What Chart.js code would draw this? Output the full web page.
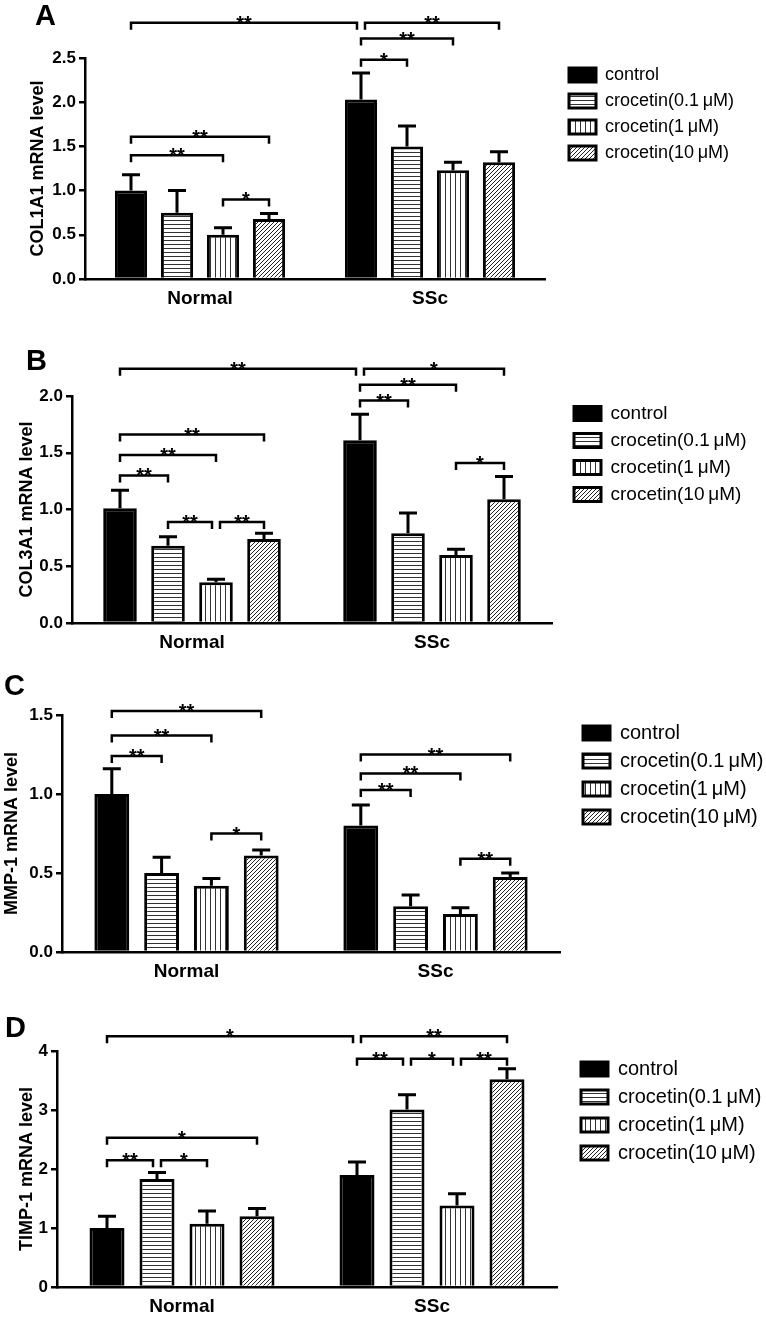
<!DOCTYPE html>
<html>
<head>
<meta charset="utf-8">
<script src="https://cdn.jsdelivr.net/npm/chart.js@4.4.1/dist/chart.umd.min.js"></script>
<style>
  html, body { margin: 0; padding: 0; background: #fff; }
  #wrap { position: relative; width: 766px; height: 1317px; overflow: hidden; }
  canvas { position: absolute; left: 0; }
</style>
</head>
<body>
<div id="wrap">
  <canvas id="chartA" width="766" height="325" style="top:0px"></canvas>
  <canvas id="chartB" width="766" height="330" style="top:325px"></canvas>
  <canvas id="chartC" width="766" height="330" style="top:655px"></canvas>
  <canvas id="chartD" width="766" height="332" style="top:985px"></canvas>
</div>
<script>
const groups = ['Normal', 'SSc'];
const seriesNames = ['control', 'crocetin(0.1\u2009\u03BCM)', 'crocetin(1\u2009\u03BCM)', 'crocetin(10\u2009\u03BCM)'];

// one row per treatment: [Normal, SSc]
const col1a1Mean = [[1.00, 2.03], [0.75, 1.50], [0.50, 1.23], [0.68, 1.32]];
const col1a1Sem  = [[0.18, 0.30], [0.25, 0.23], [0.08, 0.09], [0.06, 0.12]];
// significance: [bar a, bar b, bracket height, label]; bars 0-3 Normal, 4-7 SSc
const col1a1Sig = [[0, 4, 2.90, '**'], [4, 7, 2.90, '**'], [4, 6, 2.72, '**'], [4, 5, 2.48, '*'],
                   [0, 3, 1.61, '**'], [0, 2, 1.40, '**'], [2, 3, 0.90, '*']];

const col3a1Mean = [[1.01, 1.61], [0.68, 0.79], [0.36, 0.60], [0.74, 1.09]];
const col3a1Sem  = [[0.16, 0.23], [0.08, 0.18], [0.025, 0.05], [0.05, 0.20]];
const col3a1Sig = [[0, 4, 2.24, '**'], [4, 7, 2.24, '*'], [4, 6, 2.10, '**'], [4, 5, 1.96, '**'],
                   [6, 7, 1.41, '*'], [0, 3, 1.66, '**'], [0, 2, 1.48, '**'], [0, 1, 1.30, '**'],
                   [1, 2, 0.89, '**'], [2, 3, 0.89, '**']];

const mmp1Mean = [[1.00, 0.80], [0.50, 0.29], [0.42, 0.24], [0.61, 0.475]];
const mmp1Sem  = [[0.16, 0.13], [0.10, 0.07], [0.045, 0.04], [0.035, 0.025]];
const mmp1Sig = [[0, 3, 1.525, '**'], [0, 2, 1.37, '**'], [0, 1, 1.24, '**'], [2, 3, 0.75, '*'],
                 [4, 7, 1.25, '**'], [4, 6, 1.13, '**'], [4, 5, 1.025, '**'], [6, 7, 0.59, '**']];

const timp1Mean = [[1.00, 1.90], [1.83, 3.01], [1.07, 1.38], [1.20, 3.52]];
const timp1Sem  = [[0.20, 0.22], [0.11, 0.25], [0.22, 0.20], [0.13, 0.18]];
const timp1Sig = [[0, 4, 4.25, '*'], [4, 7, 4.25, '**'], [4, 5, 3.87, '**'], [5, 6, 3.87, '*'],
                  [6, 7, 3.87, '**'], [0, 3, 2.53, '*'], [0, 1, 2.15, '**'], [1, 2, 2.15, '*']];

const family = "'Liberation Sans', Arial, sans-serif";
Chart.defaults.font.family = family;
Chart.defaults.color = '#000';

function makePattern(ctx, kind) {
  const c = document.createElement('canvas');
  const p = c.getContext('2d');
  c.width = kind === 'v' ? 5 : 4;
  c.height = 4;
  p.fillStyle = '#fff';
  p.fillRect(0, 0, c.width, c.height);
  p.fillStyle = '#333';
  p.strokeStyle = '#222';
  if (kind === 'h') p.fillRect(0, 0, c.width, 1);
  if (kind === 'v') p.fillRect(0, 0, 1, c.height);
  if (kind === 'd') {
    p.lineWidth = 1;
    p.beginPath();
    p.moveTo(0, 4); p.lineTo(4, 0);
    p.moveTo(-1, 1); p.lineTo(1, -1);
    p.moveTo(3, 5); p.lineTo(5, 3);
    p.stroke();
  }
  return ctx.createPattern(c, 'repeat');
}

function buildPanel(id, cfg) {
  const ctx = document.getElementById(id).getContext('2d');
  const fills = ['#000', makePattern(ctx, 'h'), makePattern(ctx, 'v'), makePattern(ctx, 'd')];

  // work out legend width so the plot and the legend land where they should
  ctx.font = cfg.legendSize + 'px ' + family;
  const textW = Math.max(...seriesNames.map(s => ctx.measureText(s).width));
  const legendW = 8 + 26 + cfg.legendSize / 2 + textW + 10;
  const legendLeft = cfg.boxX - 8;
  const padRight = 766 - legendLeft - legendW;
  const gapW = legendLeft - cfg.right;

  const barX = (chart, k) => chart.getDatasetMeta(k % 4).data[Math.floor(k / 4)].x;

  const marks = {
    id: 'marks',
    afterDatasetsDraw(chart) {
      const c = chart.ctx;
      const y = chart.scales.y;
      c.save();
      c.strokeStyle = '#000';
      c.lineWidth = 3;
      // error bars (upper only)
      cfg.mean.forEach((row, s) => {
        chart.getDatasetMeta(s).data.forEach((el, g) => {
          const ye = y.getPixelForValue(row[g] + cfg.sem[s][g]);
          c.beginPath();
          c.moveTo(el.x, el.y);
          c.lineTo(el.x, ye);
          c.moveTo(el.x - 9, ye);
          c.lineTo(el.x + 9, ye);
          c.stroke();
        });
      });
      // significance brackets
      c.lineWidth = 2.5;
      c.lineJoin = 'miter';
      c.fillStyle = '#000';
      c.font = 'bold 20px ' + family;
      c.textAlign = 'center';
      c.textBaseline = 'alphabetic';
      cfg.sig.forEach(s => {
        const [a, b, level, label] = s;
        const shared = k => cfg.sig.some(o => o !== s && o[2] === level && (o[0] === k || o[1] === k));
        let x1 = barX(chart, a), x2 = barX(chart, b);
        if (shared(a)) x1 += 4;
        if (shared(b)) x2 -= 4;
        const py = y.getPixelForValue(level);
        c.beginPath();
        c.moveTo(x1, py + 7);
        c.lineTo(x1, py);
        c.lineTo(x2, py);
        c.lineTo(x2, py + 7);
        c.stroke();
        c.fillText(label, (x1 + x2) / 2, py + 7);
      });
      // panel letter
      c.font = 'bold 29px ' + family;
      c.textAlign = 'left';
      c.fillText(cfg.letter, cfg.letterX, cfg.letterY);
      c.restore();
    }
  };

  return new Chart(ctx, {
    type: 'bar',
    data: {
      labels: groups,
      datasets: seriesNames.map((name, s) => ({
        label: name,
        data: cfg.mean[s],
        backgroundColor: fills[s],
        borderColor: '#000',
        borderWidth: 3,
        categoryPercentage: 0.8,
        barPercentage: 0.7,
        xAxisID: 'x',
        yAxisID: 'y'
      }))
    },
    options: {
      responsive: false,
      animation: false,
      layout: {
        padding: { left: 0, top: cfg.top, right: padRight, bottom: cfg.height - cfg.bottom - 28 }
      },
      plugins: {
        tooltip: { enabled: false },
        legend: {
          position: 'right',
          align: 'start',
          maxWidth: 400,
          labels: {
            boxWidth: 27,
            boxHeight: 14,
            padding: 8,
            color: '#000',
            font: { size: cfg.legendSize }
          }
        }
      },
      scales: {
        y: {
          min: 0,
          max: cfg.max,
          afterFit: s => { s.width = cfg.left; },
          ticks: {
            stepSize: cfg.step,
            padding: 3,
            color: '#000',
            font: { size: 17, weight: 'bold' },
            callback: v => v.toFixed(cfg.decimals)
          },
          grid: { drawOnChartArea: false, drawTicks: true, tickLength: 6, color: '#000', lineWidth: 2.5 },
          border: { display: true, color: '#000', width: 2.5 },
          title: {
            display: true,
            text: cfg.title,
            color: '#000',
            font: { size: 18, weight: 'bold' },
            padding: { top: cfg.titleX - 10.8, bottom: 0 }
          }
        },
        yPad: {
          type: 'linear',
          position: 'right',
          afterFit: s => { s.width = gapW; },
          ticks: { display: false },
          grid: { display: false, drawTicks: false },
          border: { display: false }
        },
        x: {
          afterFit: s => { s.height = 28; },
          grid: { display: false, drawTicks: false },
          border: { display: true, color: '#000', width: 2.5 },
          ticks: { padding: 8, color: '#000', font: { size: 19, weight: 'bold' } }
        }
      }
    },
    plugins: [marks]
  });
}

buildPanel('chartA', {
  letter: 'A', letterX: 35, letterY: 25, title: 'COL1A1 mRNA level',
  mean: col1a1Mean, sem: col1a1Sem, sig: col1a1Sig, max: 2.5, step: 0.5, decimals: 1,
  top: 58, bottom: 279, left: 85, right: 546, height: 325, titleX: 38, boxX: 570, legendSize: 18
});
buildPanel('chartB', {
  letter: 'B', letterX: 26, letterY: 45, title: 'COL3A1 mRNA level',
  mean: col3a1Mean, sem: col3a1Sem, sig: col3a1Sig, max: 2.0, step: 0.5, decimals: 1,
  top: 71, bottom: 298, left: 72, right: 553, height: 330, titleX: 27.5, boxX: 575, legendSize: 19
});
buildPanel('chartC', {
  letter: 'C', letterX: 4, letterY: 40, title: 'MMP-1 mRNA level',
  mean: mmp1Mean, sem: mmp1Sem, sig: mmp1Sig, max: 1.5, step: 0.5, decimals: 1,
  top: 60, bottom: 297, left: 62, right: 561, height: 330, titleX: 12, boxX: 584, legendSize: 20
});
buildPanel('chartD', {
  letter: 'D', letterX: 5, letterY: 52, title: 'TIMP-1 mRNA level',
  mean: timp1Mean, sem: timp1Sem, sig: timp1Sig, max: 4, step: 1, decimals: 0,
  top: 66, bottom: 302, left: 57, right: 558, height: 332, titleX: 27.5, boxX: 582, legendSize: 20
});
</script>
</body>
</html>
